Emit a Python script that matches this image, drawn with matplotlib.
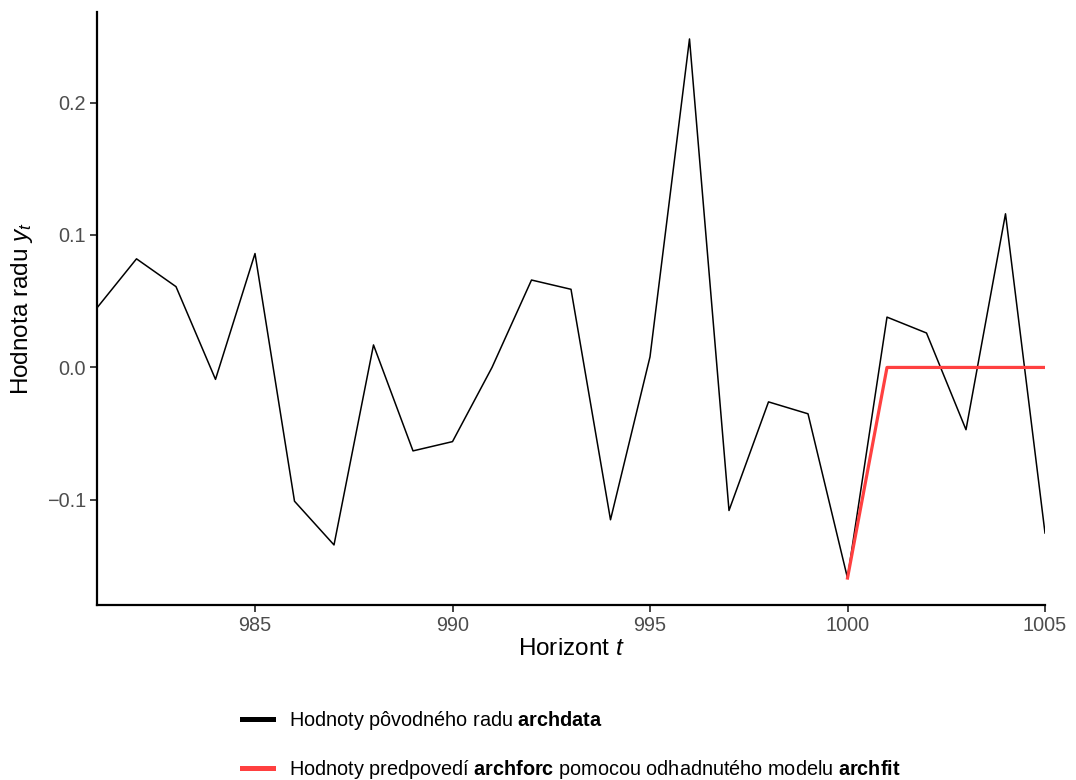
import matplotlib
matplotlib.use('Agg')
import matplotlib.pyplot as plt
from matplotlib.lines import Line2D

plt.rcParams['font.family'] = ['Liberation Sans', 'DejaVu Sans']
plt.rcParams['mathtext.fontset'] = 'custom'
plt.rcParams['mathtext.rm'] = 'Liberation Sans'
plt.rcParams['mathtext.it'] = 'Liberation Sans:italic'
plt.rcParams['mathtext.bf'] = 'Liberation Sans:bold'

# original series (last 25 observations)
t_data = list(range(981, 1006))
y_data = [0.045, 0.082, 0.061, -0.009, 0.086, -0.101, -0.134, 0.017,
          -0.063, -0.056, 0.000, 0.066, 0.059, -0.115, 0.008, 0.248,
          -0.108, -0.026, -0.035, -0.159, 0.038, 0.026, -0.047, 0.116,
          -0.125]

# forecast, anchored at the last observed value
t_fc = [1000, 1001, 1002, 1003, 1004, 1005]
y_fc = [-0.159, 0.0, 0.0, 0.0, 0.0, 0.0]

x_ticks = [985, 990, 995, 1000, 1005]
y_ticks = [-0.1, 0.0, 0.1, 0.2]
y_tick_labels = ['\u22120.1', '0.0', '0.1', '0.2']

labels = [r'Hodnoty pôvodného radu $\bf{archdata}$',
          r'Hodnoty predpovedí $\bf{archforc}$ pomocou odhadnutého modelu $\bf{archfit}$']
red = '#FF4040'

fig = plt.figure(figsize=(10.76, 7.8), dpi=100)
ax = fig.add_axes([97 / 1076, 1 - 605 / 780, (1045 - 97) / 1076, (605 - 12) / 780])

ax.plot(t_data, y_data, color='black', lw=1.1)
ax.plot(t_fc, y_fc, color=red, lw=2.3)

ax.set_xlim(981, 1005)
lo, hi = min(y_data + y_fc), max(y_data + y_fc)
pad = 0.05 * (hi - lo)
ax.set_ylim(lo - pad, hi + pad)

ax.set_xticks(x_ticks)
ax.set_yticks(y_ticks)
ax.set_yticklabels(y_tick_labels)
ax.tick_params(colors='#333333', labelcolor='#4d4d4d', labelsize=14.3,
               length=5, width=1.3, pad=3)

for side in ['top', 'right']:
    ax.spines[side].set_visible(False)
for side in ['left', 'bottom']:
    ax.spines[side].set_linewidth(1.6)

ax.set_xlabel('Horizont $t$', fontsize=17.5)
ax.set_ylabel('Hodnota radu $y_t$', fontsize=17.5)
ax.xaxis.set_label_coords(0.5, -0.056)
ax.yaxis.set_label_coords(-0.065, 0.5)

handles = [Line2D([], [], color='black', lw=3.6),
           Line2D([], [], color=red, lw=3.6)]
fig.legend(handles, labels, loc='center left',
           bbox_to_anchor=(242 / 1076, 1 - 745 / 780),
           frameon=False, fontsize=14.3, handlelength=1.56,
           handletextpad=0.8, labelspacing=1.35, borderpad=0,
           borderaxespad=0)

fig.savefig('out.png', dpi=100)
